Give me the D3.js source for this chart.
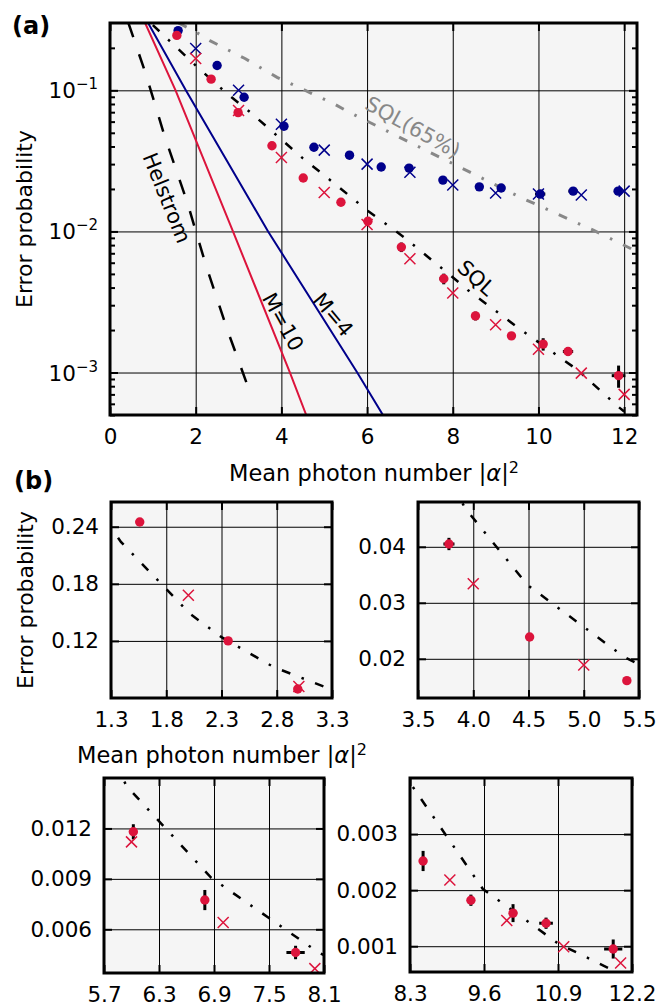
<!DOCTYPE html>
<html lang="en">
<head>
<meta charset="UTF-8">
<title>Error probability vs mean photon number</title>
<script src="https://d3js.org/d3.v7.min.js"></script>
<style>
  body { margin: 0; background: #fff; }
  svg { display: block; font-family: "DejaVu Sans", Verdana, sans-serif; }
</style>
</head>
<body>
<svg id="chart"></svg>
<script>
// ---- values ----
// measured points, M=10 (red)
const redDotX    = [1.56, 2.36, 2.99, 3.78, 4.51, 5.39, 6.02, 6.80, 7.79, 8.53, 9.37, 10.11, 10.69, 11.87];
const redDotY    = [0.245, 0.12, 0.0695, 0.0405, 0.0239, 0.0161, 0.0118, 0.00774, 0.00462, 0.00252, 0.00182, 0.00159, 0.00141, 0.00095];
const redDotXErr = [0, 0, 0, 0.05, 0, 0, 0, 0, 0.1, 0, 0, 0.03, 0.12, 0.16];
const redDotYErr = [0, 0, 0, 0.0011, 0, 0, 0.00045, 0.0006, 0.0004, 0.00018, 0.0001, 0.00016, 0.0001, 0.00017];
// simulated points, M=10
const redCrossX = [2, 3, 4, 5, 6, 7, 8, 9, 10, 11, 12];
const redCrossY = [0.168, 0.072, 0.0334, 0.0189, 0.0112, 0.0064, 0.00366, 0.00218, 0.00146, 0.00099, 0.0007];
// measured points, M=4 (blue)
const blueDotX    = [1.59, 2.50, 3.13, 4.06, 4.76, 5.59, 6.33, 6.98, 7.77, 8.62, 9.13, 10.04, 10.81, 11.86];
const blueDotY    = [0.265, 0.150, 0.0893, 0.0557, 0.0395, 0.0347, 0.0286, 0.0281, 0.0231, 0.0207, 0.0203, 0.0184, 0.0193, 0.0193];
const blueDotXErr = [0, 0, 0, 0, 0, 0, 0, 0, 0, 0, 0.08, 0.12, 0.11, 0.1];
// simulated points, M=4
const blueCrossX = [2, 3, 4, 5, 6, 7, 8, 9, 10, 11, 12];
const blueCrossY = [0.198, 0.1, 0.0575, 0.0377, 0.0300, 0.0263, 0.0213, 0.0187, 0.0184, 0.0181, 0.0193];

// theory curves
const sqlX = [1.0, 1.39, 2.02, 2.30, 2.77, 3.26, 3.93, 4.49, 5.36, 5.95, 6.87, 8.04, 8.35, 9.58, 10.9, 11.87, 12.0];
const sqlY = [0.29, 0.224, 0.148, 0.124, 0.0926, 0.0705, 0.0468, 0.0332, 0.0204, 0.0145, 0.00906, 0.00462, 0.00384, 0.00202, 0.00105, 0.00057, 0.00053];
const sql65X = [1.6, 1.95, 2.33, 3.15, 3.9, 5.2, 5.56, 8.4, 9.57, 11.28, 12.14, 12.3];
const sql65Y = [0.30, 0.265, 0.225, 0.168, 0.1236, 0.081, 0.0705, 0.0263, 0.0175, 0.0102, 0.0076, 0.0071];
const helstromX = [0.43, 0.83, 1.28, 1.8, 2.24, 2.73, 3.3];
const helstromY = [0.30, 0.132, 0.0468, 0.0162, 0.00575, 0.00204, 0.00068];
const m4X = [0.89, 1.77, 3.69, 5.77, 6.37];
const m4Y = [0.30, 0.10, 0.01, 0.001, 0.0005];
const m10X = [0.82, 1.53, 2.87, 4.2, 4.58];
const m10Y = [0.30, 0.10, 0.01, 0.001, 0.0005];

// axes
const xTicksA = [0, 2, 4, 6, 8, 10, 12];
const yTicksA = [1e-1, 1e-2, 1e-3];
const bXTicks = [[1.3, 1.8, 2.3, 2.8, 3.3], [3.5, 4.0, 4.5, 5.0, 5.5], [5.7, 6.3, 6.9, 7.5, 8.1], [8.3, 9.6, 10.9, 12.2]];
const bYTicks = [[0.12, 0.18, 0.24], [0.02, 0.03, 0.04], [0.006, 0.009, 0.012], [0.001, 0.002, 0.003]];
const bYFormat = [".2f", ".2f", ".3f", ".3f"];

const RED = "#dc143c", BLUE = "#00008b";
const TICK_FONT = 21.5;

const svg = d3.select("#chart").attr("width", 668).attr("height", 1006);
let clipId = 0;

// one framed panel with grid, inward ticks and labels
function panel(p) {
  const g = svg.append("g").attr("transform", `translate(${p.left},${p.top})`);
  const x = d3.scaleLinear().domain(p.xDomain).range([0, p.w]);
  const y = (p.log ? d3.scaleLog() : d3.scaleLinear()).domain(p.yDomain).range([p.h, 0]);

  g.append("rect").attr("width", p.w).attr("height", p.h).attr("fill", "#f5f5f5");

  // grid
  const gx = g.append("g").attr("transform", `translate(0,${p.h})`)
    .call(d3.axisBottom(x).tickValues(p.xGrid).tickSize(-p.h).tickFormat(""));
  const gy = g.append("g")
    .call(d3.axisLeft(y).tickValues(p.yGrid).tickSize(-p.w).tickFormat(""));
  [gx, gy].forEach(a => { a.select(".domain").remove(); a.selectAll("line").attr("stroke", "#000").attr("stroke-width", 1); });

  // ticks with labels
  const ax = g.append("g").attr("transform", `translate(0,${p.h})`)
    .call(d3.axisBottom(x).tickValues(p.xTicks).tickSize(-8).tickPadding(14).tickFormat(p.xFmt));
  const ay = g.append("g")
    .call(d3.axisLeft(y).tickValues(p.yTicks).tickSize(-8).tickPadding(12).tickFormat(p.yFmt));
  const at = g.append("g").call(d3.axisTop(x).tickValues(p.xTicks).tickSize(-8).tickFormat(""));
  const ar = g.append("g").attr("transform", `translate(${p.w},0)`)
    .call(d3.axisRight(y).tickValues(p.yTicks).tickSize(-8).tickFormat(""));
  const axes = [ax, ay, at, ar];
  if (p.minor) {
    axes.push(g.append("g").call(d3.axisLeft(y).tickValues(p.minor).tickSize(-5).tickFormat("")));
    axes.push(g.append("g").attr("transform", `translate(${p.w},0)`)
      .call(d3.axisRight(y).tickValues(p.minor).tickSize(-5).tickFormat("")));
  }
  axes.forEach(a => {
    a.select(".domain").remove();
    a.selectAll("line").attr("stroke", "#000").attr("stroke-width", 2);
    a.selectAll("text").attr("font-size", TICK_FONT).attr("fill", "#000")
      .attr("font-family", "DejaVu Sans, Verdana, sans-serif");
  });

  const id = "clip" + (clipId++);
  g.append("clipPath").attr("id", id).append("rect").attr("width", p.w).attr("height", p.h);
  const plot = g.append("g").attr("clip-path", `url(#${id})`);

  // frame drawn last
  const frame = () => g.append("rect").attr("width", p.w).attr("height", p.h)
    .attr("fill", "none").attr("stroke", "#000").attr("stroke-width", 3);
  return { g, x, y, plot, ay, frame };
}

function curve(pp, xs, ys, color, width, dash) {
  const line = d3.line().x(d => pp.x(d[0])).y(d => pp.y(d[1]));
  pp.plot.append("path").datum(d3.zip(xs, ys)).attr("d", line)
    .attr("fill", "none").attr("stroke", color).attr("stroke-width", width)
    .attr("stroke-dasharray", dash || null);
}

function errorBars(pp, xs, ys, xe, ye) {
  const pts = d3.zip(xs, ys, xe || xs.map(() => 0), ye || xs.map(() => 0));
  pp.plot.selectAll(null).data(pts.filter(d => d[2] > 0)).enter().append("line")
    .attr("x1", d => pp.x(d[0] - d[2])).attr("x2", d => pp.x(d[0] + d[2]))
    .attr("y1", d => pp.y(d[1])).attr("y2", d => pp.y(d[1]))
    .attr("stroke", "#000").attr("stroke-width", 3);
  pp.plot.selectAll(null).data(pts.filter(d => d[3] > 0)).enter().append("line")
    .attr("x1", d => pp.x(d[0])).attr("x2", d => pp.x(d[0]))
    .attr("y1", d => pp.y(d[1] - d[3])).attr("y2", d => pp.y(d[1] + d[3]))
    .attr("stroke", "#000").attr("stroke-width", 3);
}

function dots(pp, xs, ys, color) {
  pp.plot.selectAll(null).data(d3.zip(xs, ys)).enter().append("circle")
    .attr("cx", d => pp.x(d[0])).attr("cy", d => pp.y(d[1])).attr("r", 4.7).attr("fill", color);
}

function crosses(pp, xs, ys, color) {
  pp.plot.selectAll(null).data(d3.zip(xs, ys)).enter().append("path")
    .attr("transform", d => `translate(${pp.x(d[0])},${pp.y(d[1])})`)
    .attr("d", "M-5.5,-5.5L5.5,5.5M-5.5,5.5L5.5,-5.5")
    .attr("stroke", color).attr("stroke-width", 1.5).attr("fill", "none");
}

const SQL_DASH = "9,12,2.5,12";

// ---------- panel (a) ----------
const minorA = [];
[-4, -3, -2, -1].forEach(e => d3.range(2, 10).forEach(k => {
  const v = k * Math.pow(10, e);
  if (v >= 5e-4 && v <= 0.3) minorA.push(v);
}));

const A = panel({
  left: 110, top: 23, w: 527, h: 392,
  xDomain: [0, 12.3], yDomain: [5e-4, 0.3], log: true,
  xTicks: xTicksA, yTicks: yTicksA, xGrid: xTicksA.slice(1), yGrid: yTicksA,
  xFmt: d3.format("d"), yFmt: () => "", minor: minorA
});
// 10^n labels
A.ay.selectAll(".tick text").each(function(d) {
  const t = d3.select(this).attr("dy", "0.35em");
  t.append("tspan").text("10");
  t.append("tspan").attr("dy", "-0.6em").attr("font-size", 15).text("\u2212" + Math.round(-Math.log10(d)));
});

curve(A, helstromX, helstromY, "#000", 2.5, "15,18");
curve(A, m10X, m10Y, RED, 2);
curve(A, m4X, m4Y, BLUE, 2);
curve(A, sql65X, sql65Y, "#888", 3, SQL_DASH);
curve(A, sqlX, sqlY, "#000", 2.5, SQL_DASH);
errorBars(A, blueDotX, blueDotY, blueDotXErr, null);
errorBars(A, redDotX, redDotY, redDotXErr, redDotYErr);
dots(A, blueDotX, blueDotY, BLUE);
crosses(A, blueCrossX, blueCrossY, BLUE);
dots(A, redDotX, redDotY, RED);
crosses(A, redCrossX, redCrossY, RED);
A.frame();

// curve labels, positioned in data coordinates
const curveLabels = [
  { text: "Helstrom", x: 1.33, y: 0.0173, angle: 68, color: "#000" },
  { text: "M=10", x: 4.04, y: 0.00229, angle: 61, color: "#000" },
  { text: "M=4", x: 5.21, y: 0.00257, angle: 50, color: "#000" },
  { text: "SQL", x: 8.55, y: 0.00469, angle: 42, color: "#000" },
  { text: "SQL(65%)", x: 7.07, y: 0.0548, angle: 29, color: "#888" }
];
A.g.selectAll(null).data(curveLabels).enter().append("text")
  .attr("transform", d => `translate(${A.x(d.x)},${A.y(d.y)}) rotate(${d.angle})`)
  .attr("text-anchor", "middle").attr("dy", "0.35em")
  .attr("font-size", 21).attr("fill", d => d.color).text(d => d.text);

// ---------- panels (b) ----------
const bLayout = [
  { left: 111, top: 502, w: 221, h: 196, yDomain: [0.06, 0.266] },
  { left: 418, top: 502, w: 221, h: 196, yDomain: [0.013, 0.048] },
  { left: 104, top: 778, w: 220, h: 195, yDomain: [0.0034, 0.015] },
  { left: 410, top: 778, w: 222, h: 194, yDomain: [0.00054, 0.004] }
];
bLayout.forEach((L, i) => {
  const xt = bXTicks[i];
  const P = panel({
    left: L.left, top: L.top, w: L.w, h: L.h,
    xDomain: [xt[0], xt[xt.length - 1]], yDomain: L.yDomain, log: false,
    xTicks: xt, yTicks: bYTicks[i], xGrid: xt.slice(1, -1), yGrid: bYTicks[i],
    xFmt: d3.format(".1f"), yFmt: d3.format(bYFormat[i])
  });
  curve(P, sqlX, sqlY, "#000", 2.5, SQL_DASH);
  errorBars(P, redDotX, redDotY, redDotXErr, redDotYErr);
  dots(P, redDotX, redDotY, RED);
  crosses(P, redCrossX, redCrossY, RED);
  P.frame();
});

// ---------- axis titles and panel letters ----------
function xTitle(cx, baseline) {
  const t = svg.append("text").attr("x", cx).attr("y", baseline)
    .attr("text-anchor", "middle").attr("font-size", 22.5);
  t.append("tspan").text("Mean photon number |");
  t.append("tspan").attr("font-style", "italic").text("\u03b1");
  t.append("tspan").text("|");
  t.append("tspan").attr("dy", "-0.5em").attr("font-size", 16).text("2");
}
function yTitle(cx, cy) {
  svg.append("text").attr("transform", `translate(${cx},${cy}) rotate(-90)`)
    .attr("text-anchor", "middle").attr("font-size", 22).text("Error probability");
}
xTitle(374, 481);
yTitle(32, 219);
xTitle(222, 763);
yTitle(33, 600);

svg.append("text").attr("x", 12).attr("y", 34).attr("font-size", 24).attr("font-weight", "bold").text("(a)");
svg.append("text").attr("x", 14).attr("y", 489).attr("font-size", 24).attr("font-weight", "bold").text("(b)");
</script>
</body>
</html>
